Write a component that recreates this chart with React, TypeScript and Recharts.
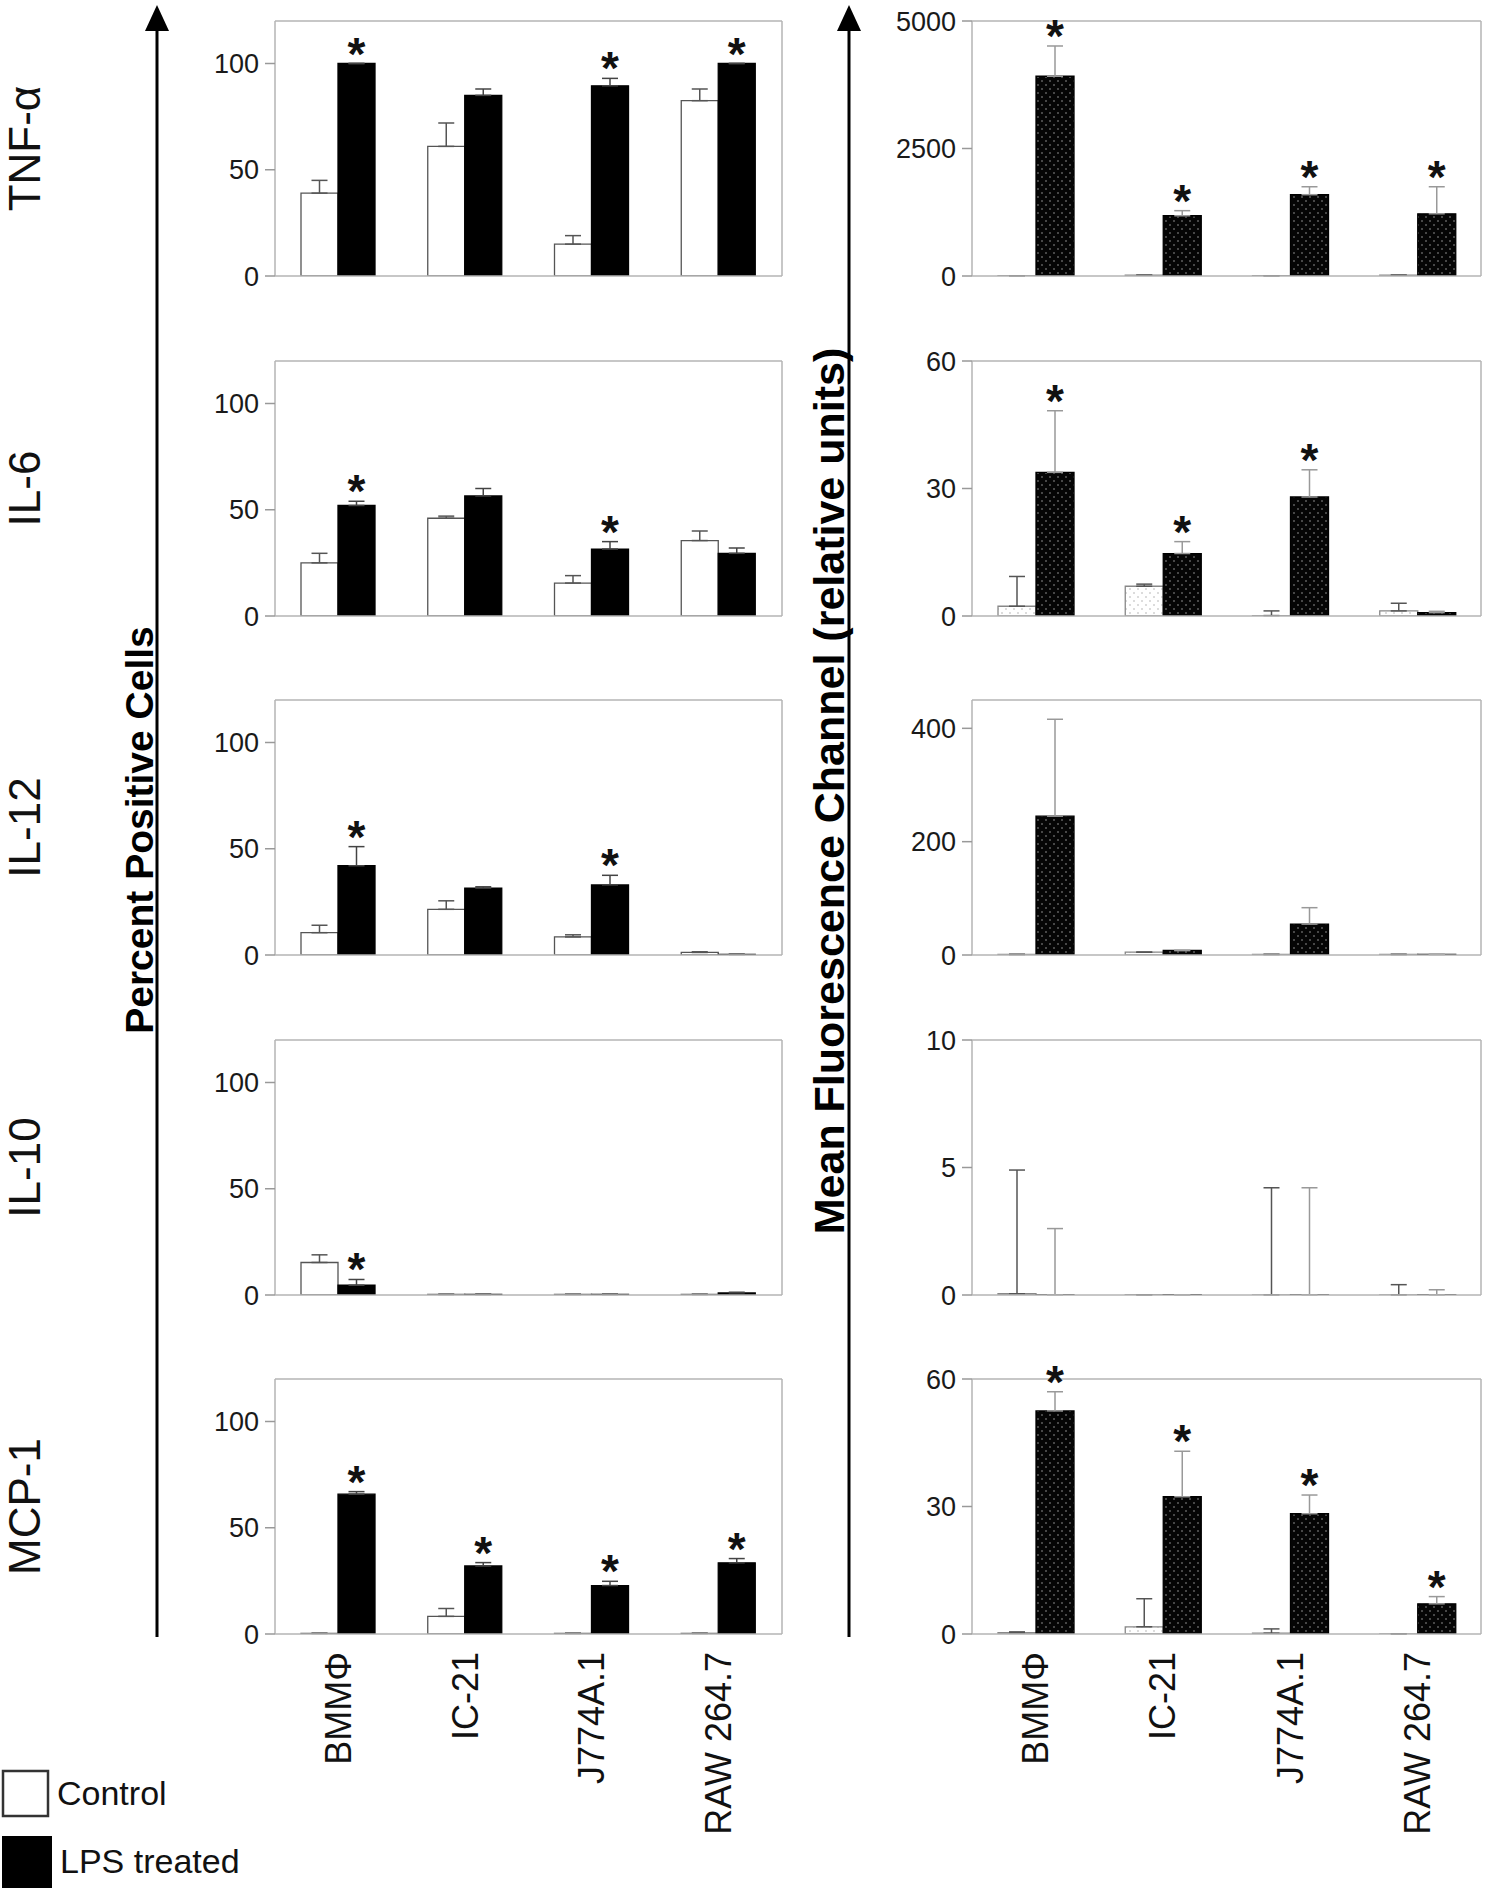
import { BarChart, Bar, XAxis, YAxis, ErrorBar, LabelList } from "recharts";

const cellLines = ["BMMΦ", "IC-21", "J774A.1", "RAW 264.7"];
const cytokines = ["TNF-α", "IL-6", "IL-12", "IL-10", "MCP-1"];

// Percent positive cells (left column)
const tnfPctCtrl = [39, 61, 15, 82.5];
const tnfPctCtrlErr = [6, 11, 4, 5.5];
const tnfPctLps = [100, 85, 89.5, 100];
const tnfPctLpsErr = [0, 3, 3.5, 0];
const tnfPctStar = [1, 0, 1, 1];

const il6PctCtrl = [25, 46, 15.5, 35.5];
const il6PctCtrlErr = [4.5, 1, 3.5, 4.5];
const il6PctLps = [52, 56.5, 31.5, 29.5];
const il6PctLpsErr = [2, 3.5, 3.5, 2.5];
const il6PctStar = [1, 0, 1, 0];

const il12PctCtrl = [10.5, 21.5, 8.5, 1.2];
const il12PctCtrlErr = [3.5, 4, 1, 0.3];
const il12PctLps = [42, 31.5, 33, 0.3];
const il12PctLpsErr = [9, 0.6, 4.5, 0];
const il12PctStar = [1, 0, 1, 0];

const il10PctCtrl = [15.3, 0.3, 0.3, 0.3];
const il10PctCtrlErr = [3.6, 0, 0, 0];
const il10PctLps = [4.6, 0.3, 0.3, 1];
const il10PctLpsErr = [2.7, 0, 0, 0.3];
const il10PctStar = [1, 0, 0, 0];

const mcpPctCtrl = [0.3, 8.3, 0.3, 0.3];
const mcpPctCtrlErr = [0, 3.7, 0, 0];
const mcpPctLps = [65.8, 32, 22.8, 33.5];
const mcpPctLpsErr = [1.2, 1.6, 2, 2];
const mcpPctStar = [1, 1, 1, 1];

// Mean fluorescence channel (right column)
const tnfMfiCtrl = [5, 15, 5, 15];
const tnfMfiCtrlErr = [0, 0, 0, 0];
const tnfMfiLps = [3917, 1181, 1594, 1220];
const tnfMfiLpsErr = [593, 100, 156, 530];
const tnfMfiStar = [1, 1, 1, 1];

const il6MfiCtrl = [2.3, 7, 0.1, 1.2];
const il6MfiCtrlErr = [7, 0.5, 1.1, 1.8];
const il6MfiLps = [33.8, 14.7, 28, 0.8];
const il6MfiLpsErr = [14.5, 2.8, 6.4, 0.3];
const il6MfiStar = [1, 1, 1, 0];

const il12MfiCtrl = [1, 5, 1, 1];
const il12MfiCtrlErr = [0, 0, 0, 0];
const il12MfiLps = [245, 8, 54.5, 1];
const il12MfiLpsErr = [171, 0, 29, 0];
const il12MfiStar = [0, 0, 0, 0];

const il10MfiCtrl = [0.05, 0.01, 0.005, 0.005];
const il10MfiCtrlErr = [4.85, 0, 4.2, 0.4];
const il10MfiLps = [0.005, 0.01, 0.005, 0.005];
const il10MfiLpsErr = [2.6, 0, 4.2, 0.2];
const il10MfiStar = [0, 0, 0, 0];

const mcpMfiCtrl = [0.3, 1.7, 0.2, 0.05];
const mcpMfiCtrlErr = [0.2, 6.6, 1, 0];
const mcpMfiLps = [52.5, 32.3, 28.3, 7.1];
const mcpMfiLpsErr = [4.5, 10.7, 4.4, 1.7];
const mcpMfiStar = [1, 1, 1, 1];

const pctTicks = [0, 50, 100];
const mfiTicks = [[0, 2500, 5000], [0, 30, 60], [0, 200, 400], [0, 5, 10], [0, 30, 60]];
const mfiMax = [5000, 60, 450, 10, 60];

const pctPanels = [
  [tnfPctCtrl, tnfPctCtrlErr, tnfPctLps, tnfPctLpsErr, tnfPctStar],
  [il6PctCtrl, il6PctCtrlErr, il6PctLps, il6PctLpsErr, il6PctStar],
  [il12PctCtrl, il12PctCtrlErr, il12PctLps, il12PctLpsErr, il12PctStar],
  [il10PctCtrl, il10PctCtrlErr, il10PctLps, il10PctLpsErr, il10PctStar],
  [mcpPctCtrl, mcpPctCtrlErr, mcpPctLps, mcpPctLpsErr, mcpPctStar],
];
const mfiPanels = [
  [tnfMfiCtrl, tnfMfiCtrlErr, tnfMfiLps, tnfMfiLpsErr, tnfMfiStar],
  [il6MfiCtrl, il6MfiCtrlErr, il6MfiLps, il6MfiLpsErr, il6MfiStar],
  [il12MfiCtrl, il12MfiCtrlErr, il12MfiLps, il12MfiLpsErr, il12MfiStar],
  [il10MfiCtrl, il10MfiCtrlErr, il10MfiLps, il10MfiLpsErr, il10MfiStar],
  [mcpMfiCtrl, mcpMfiCtrlErr, mcpMfiLps, mcpMfiLpsErr, mcpMfiStar],
];

const FONT = "'Liberation Sans', Arial, Helvetica, sans-serif";
const FRAME = "#b4b4b4";
const PLOT_H = 255;
const TOP_PAD = 30;
const rowTops = [21, 361, 700, 1040, 1379];

function XTick(props: any) {
  const { x, y, payload } = props;
  return (
    <text
      x={x}
      y={y}
      dy="0.35em"
      textAnchor="end"
      transform={`rotate(-90 ${x} ${y})`}
      fontSize={36}
      fill="#111"
      fontFamily={FONT}
    >
      {payload.value}
    </text>
  );
}

function Panel({ side, row }: { side: "L" | "R"; row: number }) {
  const arrs = side === "L" ? pctPanels[row] : mfiPanels[row];
  const [ctrl, ctrlErr, lps, lpsErr, star] = arrs;
  const data = cellLines.map((name, i) => ({
    name,
    ctrl: ctrl[i],
    lps: lps[i],
    ctrlErr: [0, ctrlErr[i]],
    lpsErr: [0, lpsErr[i]],
    star: star[i],
  }));
  const last = row === 4;
  const left = side === "L" ? 175 : 872;
  const width = side === "L" ? 609 : 611;
  const xh = last ? 230 : 20;
  const height = TOP_PAD + PLOT_H + xh;
  const top = rowTops[row] - TOP_PAD;
  const max = side === "L" ? 120 : mfiMax[row];
  const ticks = side === "L" ? pctTicks : mfiTicks[row];
  const id = `${side}${row}`;

  const renderStar = (props: any) => {
    const vb = props.viewBox ?? props;
    const d = data[props.index];
    if (!d || !d.star || !d.lps) return null;
    const ppu = vb.height / d.lps;
    const errTop = vb.y - d.lpsErr[1] * ppu;
    return (
      <text
        x={vb.x + vb.width / 2}
        y={errTop + 6}
        textAnchor="middle"
        fontSize={46}
        fontWeight="bold"
        fill="#111"
        fontFamily={FONT}
      >
        *
      </text>
    );
  };

  return (
    <div style={{ position: "absolute", left, top, width, height }}>
      <BarChart
        width={width}
        height={height}
        data={data}
        margin={{ top: 0, right: 0, bottom: 0, left: 0 }}
        barCategoryGap={26}
        barGap={0}
      >
        <defs>
          <pattern id={`dk-${id}`} width="8" height="8" patternUnits="userSpaceOnUse">
            <rect width="8" height="8" fill="#050505" />
            <circle cx="2" cy="2" r="0.8" fill="#9a9a9a" />
            <circle cx="6" cy="6" r="0.8" fill="#9a9a9a" />
          </pattern>
          <pattern id={`lt-${id}`} width="8" height="8" patternUnits="userSpaceOnUse">
            <rect width="8" height="8" fill="#fff" />
            <circle cx="2" cy="2" r="0.8" fill="#b0b0b0" />
            <circle cx="6" cy="6" r="0.8" fill="#b0b0b0" />
          </pattern>
        </defs>
        <XAxis
          dataKey="name"
          height={xh}
          interval={0}
          axisLine={{ stroke: FRAME, strokeWidth: 1.5 }}
          tickLine={false}
          tickSize={8}
          tickMargin={10}
          tick={last ? (p: any) => <XTick {...p} /> : false}
        />
        <XAxis
          xAxisId="top"
          orientation="top"
          dataKey="name"
          height={TOP_PAD}
          axisLine={{ stroke: FRAME, strokeWidth: 1.5 }}
          tickLine={false}
          tick={false}
        />
        <YAxis
          domain={[0, max]}
          ticks={ticks}
          width={100}
          allowDataOverflow
          axisLine={{ stroke: FRAME, strokeWidth: 1.5 }}
          tickLine={{ stroke: "#999", strokeWidth: 1.5 }}
          tickSize={10}
          tickMargin={6}
          tick={{ fontSize: 27, fill: "#1a1a1a", fontFamily: FONT }}
        />
        <YAxis
          yAxisId="right"
          orientation="right"
          width={2}
          axisLine={{ stroke: FRAME, strokeWidth: 1.5 }}
          tickLine={false}
          tick={false}
        />
        <Bar
          dataKey="ctrl"
          fill={side === "L" ? "#fff" : `url(#lt-${id})`}
          stroke={side === "L" ? "#555" : "#888"}
          strokeWidth={1.3}
          isAnimationActive={false}
        >
          <ErrorBar dataKey="ctrlErr" direction="y" width={8} stroke="#555" strokeWidth={1.5} isAnimationActive={false} />
        </Bar>
        <Bar
          dataKey="lps"
          fill={side === "L" ? "#000" : `url(#dk-${id})`}
          stroke="#000"
          strokeWidth={1.3}
          isAnimationActive={false}
        >
          <ErrorBar
            dataKey="lpsErr"
            direction="y"
            width={8}
            stroke={side === "L" ? "#444" : "#999"}
            strokeWidth={1.5}
            isAnimationActive={false}
          />
          <LabelList dataKey="star" content={renderStar} />
        </Bar>
      </BarChart>
    </div>
  );
}

export default function App() {
  return (
    <div style={{ position: "relative", width: 1488, height: 1888, background: "#fff", fontFamily: FONT, overflow: "hidden" }}>
      <style>{"body{margin:0}"}</style>
      {cytokines.map((_, r) => (
        <Panel key={`L${r}`} side="L" row={r} />
      ))}
      {cytokines.map((_, r) => (
        <Panel key={`R${r}`} side="R" row={r} />
      ))}
      <svg width={1488} height={1888} style={{ position: "absolute", left: 0, top: 0, pointerEvents: "none" }}>
        {/* axis arrows */}
        <line x1={157} y1={28} x2={157} y2={1637} stroke="#000" strokeWidth={3} />
        <polygon points="157,5 145,31 169,31" fill="#000" />
        <line x1={849} y1={28} x2={849} y2={1637} stroke="#000" strokeWidth={3} />
        <polygon points="849,5 837,31 861,31" fill="#000" />
        {/* row labels */}
        {cytokines.map((c, r) => {
          const cy = rowTops[r] + PLOT_H / 2;
          return (
            <text
              key={c}
              x={25}
              y={cy}
              dy="0.35em"
              textAnchor="middle"
              transform={`rotate(-90 25 ${cy})`}
              fontSize={44}
              fill="#111"
              fontFamily={FONT}
            >
              {c}
            </text>
          );
        })}
        <text
          x={153}
          y={830}
          textAnchor="middle"
          transform="rotate(-90 153 830)"
          fontSize={39}
          fontWeight="bold"
          fill="#000"
          fontFamily={FONT}
        >
          Percent Positive Cells
        </text>
        <text
          x={844}
          y={791}
          textAnchor="middle"
          transform="rotate(-90 844 791)"
          fontSize={43}
          fontWeight="bold"
          fill="#000"
          fontFamily={FONT}
        >
          Mean Fluorescence Channel (relative units)
        </text>
        {/* legend */}
        <rect x={3} y={1771} width={45} height={45} fill="#fff" stroke="#333" strokeWidth={2.5} />
        <text x={57} y={1793} dominantBaseline="central" fontSize={34} fill="#111" fontFamily={FONT}>
          Control
        </text>
        <rect x={2} y={1836} width={50} height={52} fill="#000" />
        <text x={60} y={1861} dominantBaseline="central" fontSize={34} fill="#111" fontFamily={FONT}>
          LPS treated
        </text>
      </svg>
    </div>
  );
}
